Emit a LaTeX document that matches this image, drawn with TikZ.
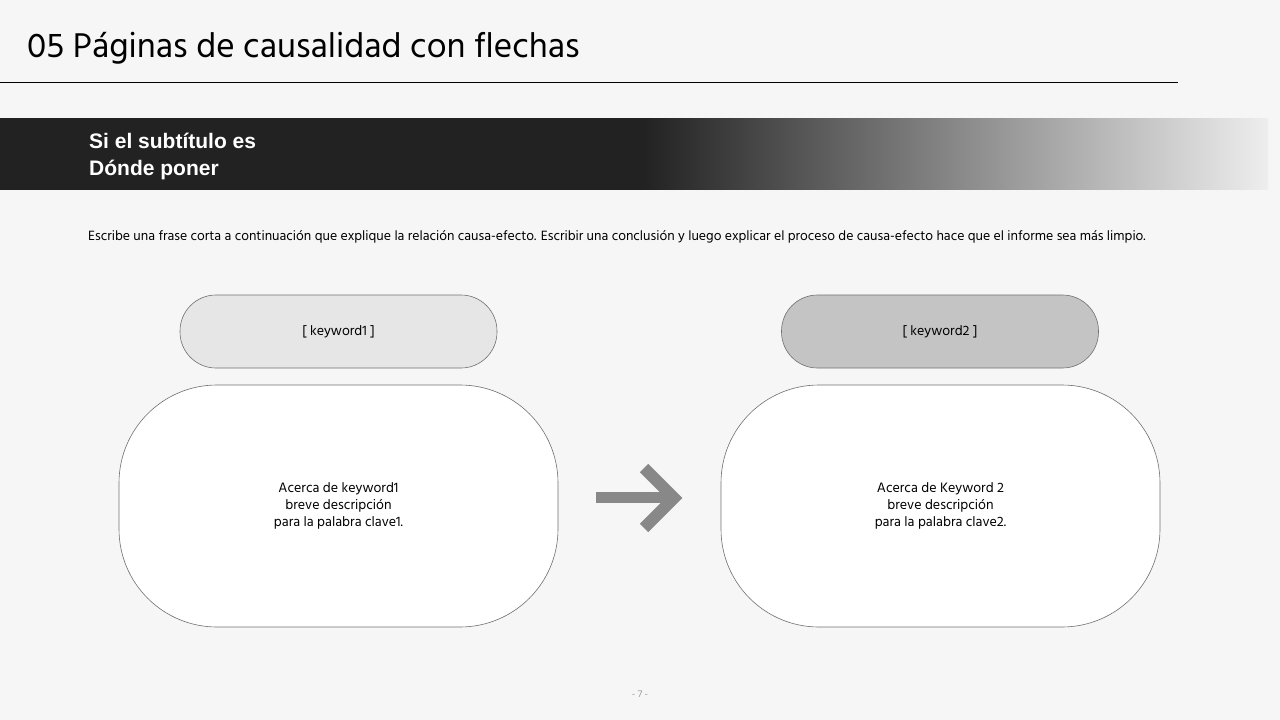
\documentclass[tikz,border=0pt]{standalone}
\usepackage{fontspec}
\setmainfont{Hind Madurai}
\newfontfamily\subfont{Liberation Sans}
\usetikzlibrary{calc}
\definecolor{bg}{HTML}{F6F6F6}
\definecolor{banner}{HTML}{222222}
\definecolor{bannerend}{HTML}{EEEEEE}
\definecolor{pillA}{HTML}{E6E6E6}
\definecolor{pillB}{HTML}{C4C4C4}
\definecolor{edge}{HTML}{707070}
\definecolor{arrowgray}{HTML}{888888}
\definecolor{pagegray}{HTML}{9A9A9A}
\pgfdeclarehorizontalshading{bannershade}{100bp}{color(0bp)=(banner); color(25bp)=(banner); color(50.4bp)=(banner); color(75bp)=(bannerend); color(100bp)=(bannerend)}
\tikzset{
  pill/.style={draw=edge, line width=0.6pt, rounded corners=36pt, minimum width=317pt, minimum height=73pt, inner sep=0pt, font=\fontsize{14}{16}\selectfont},
  bigbox/.style={draw=edge, line width=0.6pt, fill=white, rounded corners=98pt, minimum width=439pt, minimum height=242pt, inner sep=0pt, align=center, font=\fontsize{14}{17}\selectfont},
}
\begin{document}
\begin{tikzpicture}[x=1pt,y=-1pt]
\fill[bg] (0,0) rectangle (1280,720);
\useasboundingbox (0,0) rectangle (1280,720);
% title
\node[anchor=base west, inner sep=0pt, font=\fontsize{35.2}{38}\selectfont] (title) at (27,57) {05 Páginas de causalidad con flechas};
\draw[line width=1pt] (0,82) -- (1178,82);
% banner
\shade[shading=bannershade] (0,118) rectangle (1268,189);
\node[anchor=base west, inner sep=0pt, text=white, align=left, font=\subfont\bfseries\fontsize{21}{27}\selectfont] (sub) at (89,175) {Si el subtítulo es\\Dónde poner};
% description
\node[anchor=base west, inner sep=0pt, font=\fontsize{13.8}{16}\selectfont] (desc) at (88,240) {Escribe una frase corta a continuación que explique la relación causa-efecto. Escribir una conclusión y luego explicar el proceso de causa-efecto hace que el informe sea más limpio.};
% pills
\node[pill, fill=pillA] (k1) at (338.5,331.5) {[ keyword1 ]};
\node[pill, fill=pillB] (k2) at (940,331.5) {[ keyword2 ]};
% big boxes
\node[bigbox] (b1) at (338.5,506) {Acerca de keyword1\\breve descripción\\para la palabra clave1.};
\node[bigbox] (b2) at (940.5,506) {Acerca de Keyword 2\\breve descripción\\para la palabra clave2.};
% arrow
\draw[arrowgray, line width=11pt] (596,497.5) -- (668,497.5);
\draw[arrowgray, line width=12pt, line join=miter] (644,468) -- (674,498) -- (644,528);
% page number
\node[text=pagegray, font=\fontsize{10}{12}\selectfont] (pg) at (640,694) {- 7 -};
\end{tikzpicture}
\end{document}
